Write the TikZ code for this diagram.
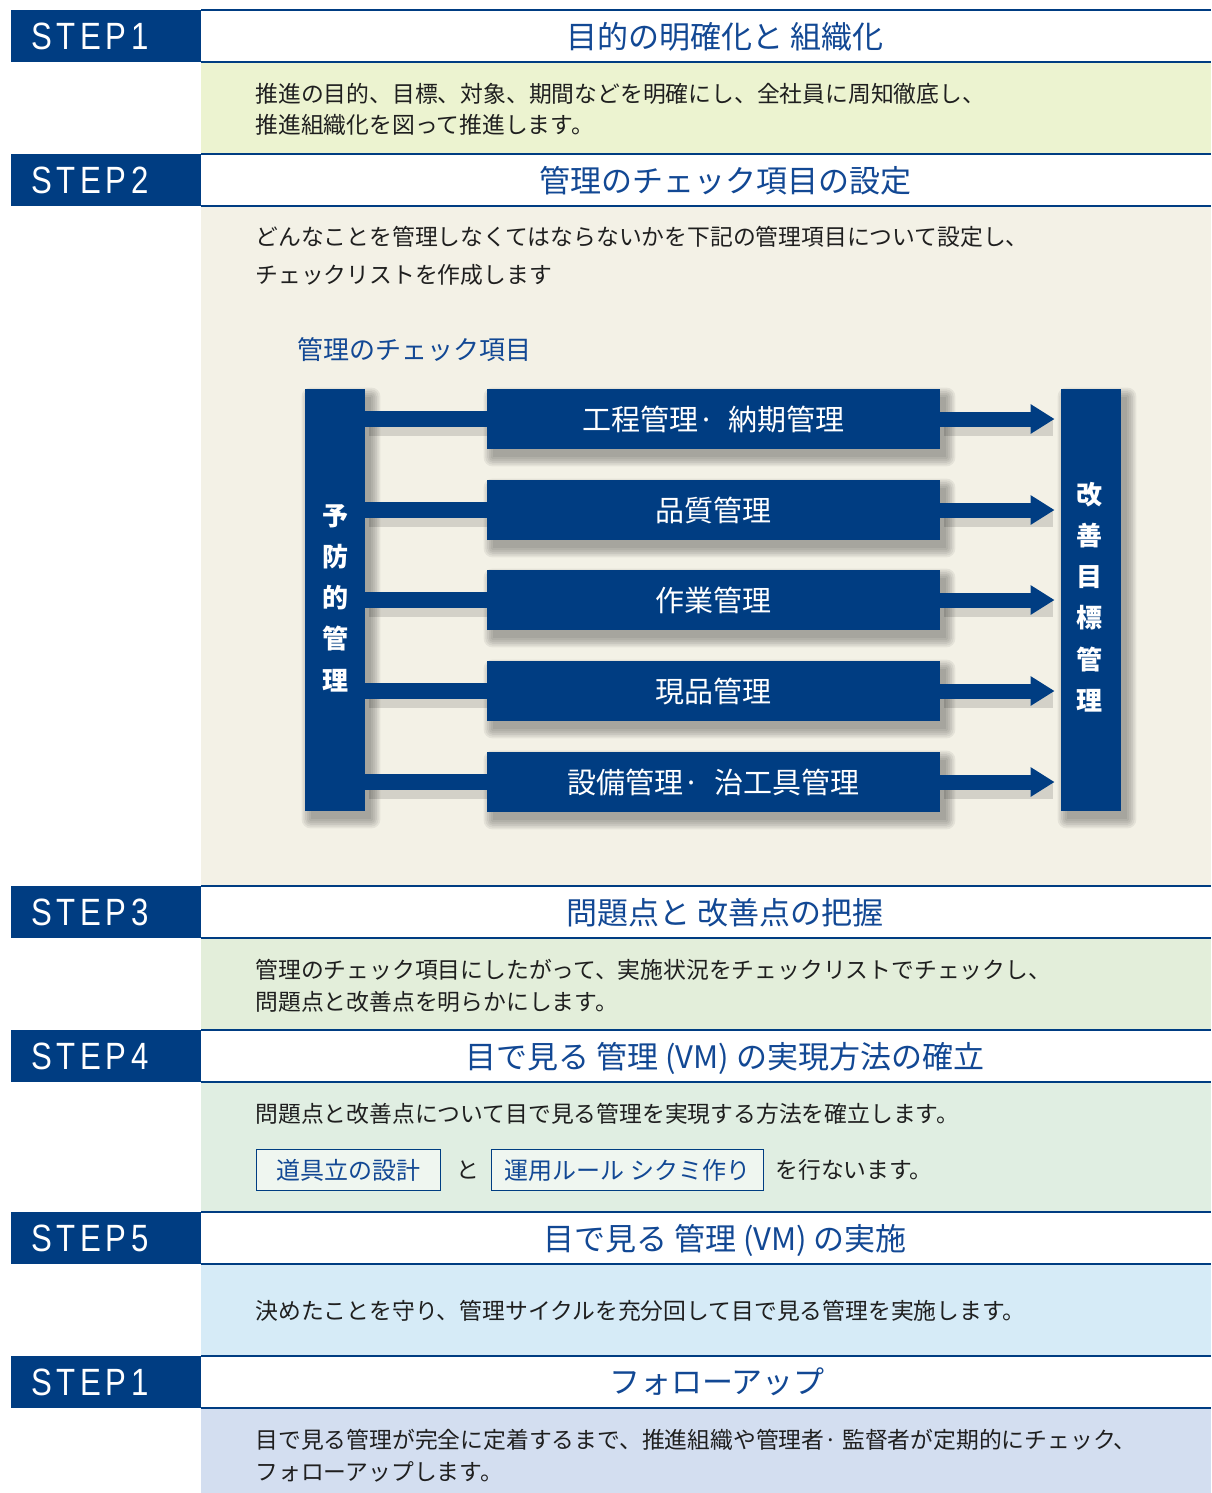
\documentclass[tikz,border=0pt]{standalone}
\usepackage{fontspec}
\setmainfont{Noto Sans CJK JP}
\newfontfamily\stepfont[FakeStretch=0.82,LetterSpace=12]{Liberation Sans}
\usetikzlibrary{arrows.meta}
\definecolor{dblue}{RGB}{0,61,130}
\definecolor{tblue}{RGB}{18,72,148}
\definecolor{bgA}{RGB}{236,243,208}
\definecolor{bgB}{RGB}{243,241,230}
\definecolor{bgC}{RGB}{227,238,218}
\definecolor{bgD}{RGB}{224,238,226}
\definecolor{bgE}{RGB}{214,235,247}
\definecolor{bgF}{RGB}{211,222,240}
\pgfdeclarelayer{bands}
\pgfdeclarelayer{shadowlayer}
\pgfsetlayers{bands,shadowlayer,main}
\tikzset{
  steplabel/.style={fill=dblue, text=white, anchor=north west, text width=75pt,
    inner xsep=10pt, inner ysep=0pt, minimum height=26pt, align=left,
    font=\stepfont\fontsize{19}{19}\selectfont},
  titletext/.style={text=tblue, font=\fontsize{15.5}{15.5}\selectfont, inner sep=0pt},
  bodytext/.style={anchor=west, align=left, inner sep=0pt, text=black!88},
  bar/.style={fill=dblue, minimum width=30pt, minimum height=211pt, inner sep=0pt},
  bartext/.style={text=white, align=center, inner sep=0pt,
    font=\bfseries\fontsize{13}{20.6}\selectfont},
  itembox/.style={fill=dblue, text=white, minimum width=226.5pt, minimum height=30pt,
    inner sep=0pt, font=\fontsize{14.5}{14.5}\selectfont},
  shadowpiece/.style={black, opacity=0.06},
  conn/.style={dblue, line width=8pt},
  connshadow/.style={black, opacity=0.13, line width=9pt, transform canvas={shift={(2pt,-4pt)}}},
  arr/.style={dblue, line width=7.5pt, shorten >=3pt, -{Triangle[length=12pt,width=14pt]}},
  vmbox/.style={draw=dblue, line width=0.6pt, fill=bgD!50!white, text=tblue,
    anchor=west, minimum height=20.5pt, inner sep=0pt, font=\fontsize{12}{12}\selectfont},
  topline/.style={dblue, line width=1pt},
}
\newcommand\softshadow[1]{%
  \begin{pgfonlayer}{shadowlayer}
  \foreach \k in {0,...,5}{
    \fill[shadowpiece, rounded corners=\k*0.9pt]
      ([shift={(3pt-\k*0.9pt,-4pt-\k*0.9pt)}]#1.south west) rectangle
      ([shift={(3pt+\k*0.9pt,-4pt+\k*0.9pt)}]#1.north east);
  }
  \end{pgfonlayer}}
\begin{document}
\begin{tikzpicture}[x=0.5pt, y=-0.5pt]
\useasboundingbox (0,0) rectangle (1211,1493);
\begin{pgfonlayer}{bands}
\fill[white] (0,0) rectangle (1211,1493);
\fill[bgA] (201,62) rectangle (1211,154);
\fill[bgB] (201,206) rectangle (1211,886);
\fill[bgC] (201,938) rectangle (1211,1030);
\fill[bgD] (201,1082) rectangle (1211,1212);
\fill[bgE] (201,1264) rectangle (1211,1356);
\fill[bgF] (201,1408) rectangle (1211,1493);
\foreach \t in {10,154,886,1030,1212,1356}{
  \fill[white] (201,\t) rectangle (1211,\t+52);
}
\end{pgfonlayer}
\foreach \t in {10,154,886,1030,1212,1356}{
  \draw[topline] (201,\t) -- (1211,\t);
  \draw[topline] (201,\t+52) -- (1211,\t+52);
}
\node[steplabel] (s1) at (11,10) {STEP1};
\node[steplabel] (s2) at (11,154) {STEP2};
\node[steplabel] (s3) at (11,886) {STEP3};
\node[steplabel] (s4) at (11,1030) {STEP4};
\node[steplabel] (s5) at (11,1212) {STEP5};
\node[steplabel] (s6) at (11,1356) {STEP1};
% titles
\node[titletext] (t1) at (725,37) {目的の明確化と 組織化};
\node[titletext] (t2) at (725,181) {管理のチェック項目の設定};
\node[titletext] (t3) at (725,913) {問題点と 改善点の把握};
\node[titletext] (t4) at (725,1058) {目で見る 管理 (VM) の実現方法の確立};
\node[titletext] (t5) at (725,1240) {目で見る 管理 (VM) の実施};
\node[titletext] (t6) at (717,1382) {フォローアップ};
% body texts
\node[bodytext, font=\fontsize{11.4}{15.5}\selectfont] (p1) at (255,109.5)
  {推進の目的、目標、対象、期間などを明確にし、全社員に周知徹底し、\\推進組織化を図って推進します。};
\node[bodytext, font=\fontsize{11.4}{19}\selectfont] (p2) at (255,256)
  {どんなことを管理しなくてはならないかを下記の管理項目について設定し、\\チェックリストを作成します};
\node[bodytext, text=tblue, font=\fontsize{13}{13}\selectfont] (lab) at (297,350) {管理のチェック項目};
\node[bodytext, font=\fontsize{11.4}{16}\selectfont] (p3) at (255,986)
  {管理のチェック項目にしたがって、実施状況をチェックリストでチェックし、\\問題点と改善点を明らかにします。};
\node[bodytext, font=\fontsize{11.4}{11.4}\selectfont] (p4) at (255,1114)
  {問題点と改善点について目で見る管理を実現する方法を確立します。};
\node[vmbox, minimum width=92pt] (vm1) at (256,1170) {道具立の設計};
\node[bodytext, font=\fontsize{11.4}{11.4}\selectfont] (to) at (456,1170) {と};
\node[vmbox, minimum width=136pt] (vm2) at (491,1170) {運用ルール シクミ作り};
\node[bodytext, font=\fontsize{11.4}{11.4}\selectfont] (p4b) at (775,1170) {を行ないます。};
\node[bodytext, font=\fontsize{11.4}{11.4}\selectfont] (p5) at (255,1311)
  {決めたことを守り、管理サイクルを充分回して目で見る管理を実施します。};
\node[bodytext, font=\fontsize{11.4}{16}\selectfont] (p6) at (255,1456)
  {目で見る管理が完全に定着するまで、推進組織や管理者· 監督者が定期的にチェック、\\フォローアップします。};
% diagram
\node[bar] (L) at (335,600) {};
\node[bar] (R) at (1091,600) {};
\node[bartext] (Lt) at (335,598) {予\\防\\的\\管\\理};
\node[bartext] (Rt) at (1089,597) {改\\善\\目\\標\\管\\理};
\node[itembox] (b1) at (713.5,419) {工程管理·\enspace 納期管理};
\node[itembox] (b2) at (713.5,510) {品質管理};
\node[itembox] (b3) at (713.5,600) {作業管理};
\node[itembox] (b4) at (713.5,691) {現品管理};
\node[itembox] (b5) at (713.5,782) {設備管理·\enspace 治工具管理};
\softshadow{L}
\softshadow{R}
\foreach \b in {b1,b2,b3,b4,b5}{
  \softshadow{\b}
  \begin{pgfonlayer}{shadowlayer}
  \draw[connshadow] (L.east |- \b) -- (\b.west);
  \draw[connshadow] (\b.east) -- ([xshift=-6pt]R.west |- \b);
  \end{pgfonlayer}
  \draw[conn] (L.east |- \b) -- (\b.west);
  \draw[arr] (\b.east) -- (R.west |- \b);
}
\end{tikzpicture}
\end{document}
